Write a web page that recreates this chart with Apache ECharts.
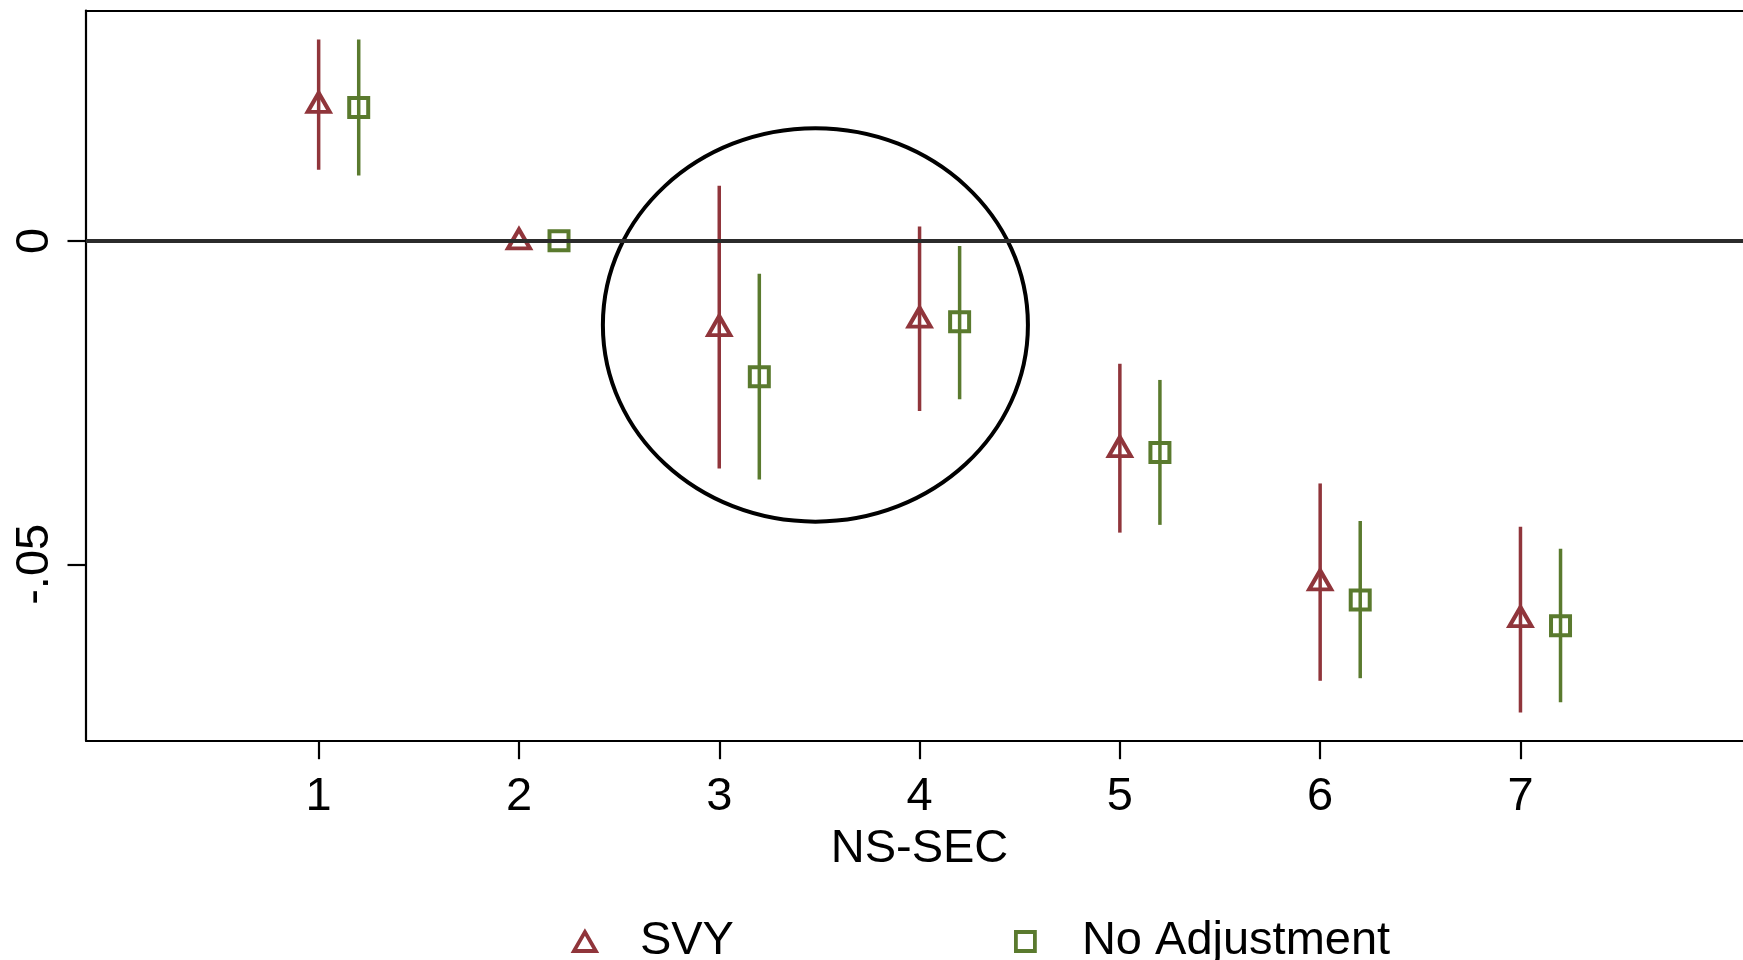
<!DOCTYPE html>
<html>
<head>
<meta charset="utf-8">
<script src="https://cdn.jsdelivr.net/npm/echarts@6/dist/echarts.min.js"></script>
<style>
  html, body { margin: 0; padding: 0; background: #fff; }
  #main { width: 1743px; height: 960px; }
</style>
</head>
<body>
<div id="main"></div>
<script>
// NS-SEC classes, SVY at x, No Adjustment shifted by .2
const svyX = [1, 2, 3, 4, 5, 6, 7];
const noAdjX = [1.2, 2.2, 3.2, 4.2, 5.2, 6.2, 7.2];

const svyEst = [0.0211, 0, -0.0134, -0.0121, -0.0321, -0.0527, -0.0584];
const svyLo = [0.0110, null, -0.0352, -0.0263, -0.0451, -0.0680, -0.0729];
const svyHi = [0.0311, null, 0.0085, 0.0022, -0.0190, -0.0375, -0.0442];

const noAdjEst = [0.0206, 0, -0.0210, -0.0125, -0.0327, -0.0555, -0.0595];
const noAdjLo = [0.0101, null, -0.0369, -0.0245, -0.0439, -0.0676, -0.0713];
const noAdjHi = [0.0311, null, -0.0051, -0.0008, -0.0215, -0.0433, -0.0476];

const xTickValues = [1, 2, 3, 4, 5, 6, 7];
const yTickValues = [-0.05, 0];
const yTickLabels = ['-.05', '0'];

// circled region (centre x, centre y, radius x, radius y) in data units
const ellipseData = [3.48, -0.0130, 1.061, 0.0304];

const RED = '#90353b';
const GREEN = '#5a7a2e';
const FONT = "'Liberation Sans', Arial, Helvetica, sans-serif";
const FS = 47;

function pts(xs, ys) {
  return xs.map((x, i) => [x, ys[i]]);
}
function bars(xs, lo, hi) {
  let out = [];
  xs.forEach((x, i) => {
    if (lo[i] !== null) out.push([x, lo[i], hi[i]]);
  });
  return out;
}
function barRenderer(color) {
  return function (params, api) {
    let a = api.coord([api.value(0), api.value(2)]);
    let b = api.coord([api.value(0), api.value(1)]);
    return {
      type: 'line',
      shape: {x1: a[0], y1: a[1], x2: b[0], y2: b[1]},
      style: {stroke: color, lineWidth: 3.5}
    };
  };
}

const axisLineStyle = {color: '#000', width: 2.2};
const tickStyle = {color: '#000', width: 2.2};

let chart = echarts.init(document.getElementById('main'));
let option = {
  animation: false,
  backgroundColor: '#fff',
  textStyle: {fontFamily: FONT},
  grid: {left: 86, top: 10.5, right: 0, bottom: 219.3},
  xAxis: [
    {
      type: 'value',
      position: 'bottom',
      min: -0.1615,
      max: 8.111,
      name: 'NS-SEC',
      nameLocation: 'middle',
      nameGap: 73,
      nameTextStyle: {fontSize: FS, color: '#000', fontFamily: FONT, padding: [0, 0, 0, 10]},
      splitLine: {show: false},
      axisLine: {show: true, onZero: false, lineStyle: axisLineStyle},
      axisTick: {show: true, length: 18.5, customValues: xTickValues, lineStyle: tickStyle},
      axisLabel: {customValues: xTickValues, fontSize: FS, color: '#000', margin: 33, fontFamily: FONT}
    },
    {
      // top frame line only
      type: 'value',
      position: 'top',
      min: -0.1615,
      max: 8.111,
      splitLine: {show: false},
      axisLine: {show: true, onZero: false, lineStyle: axisLineStyle},
      axisTick: {show: false},
      axisLabel: {show: false}
    }
  ],
  yAxis: {
    type: 'value',
    position: 'left',
    min: -0.07726,
    max: 0.0356,
    splitLine: {show: false},
    axisLine: {show: true, onZero: false, lineStyle: axisLineStyle},
    axisTick: {show: true, length: 18.5, customValues: yTickValues, lineStyle: tickStyle},
    axisLabel: {
      customValues: yTickValues, rotate: 90, fontSize: FS, color: '#000', margin: 27, fontFamily: FONT,
      formatter: function (v) {
        let i = yTickValues.findIndex(t => Math.abs(t - v) < 1e-9);
        return i >= 0 ? yTickLabels[i] : '';
      }
    }
  },
  legend: [
    {
      left: 567, top: 913, itemWidth: 22, itemHeight: 19,
      data: [{name: 'SVY', icon: 'triangle'}],
      itemStyle: {color: 'transparent', borderColor: RED, borderWidth: 3.8},
      textStyle: {fontSize: FS, color: '#000', fontFamily: FONT, padding: [0, 0, 0, 39]}
    },
    {
      left: 1009, top: 913, itemWidth: 19, itemHeight: 19,
      data: [{name: 'No Adjustment', icon: 'rect'}],
      itemStyle: {color: 'transparent', borderColor: GREEN, borderWidth: 3.8},
      textStyle: {fontSize: FS, color: '#000', fontFamily: FONT, padding: [0, 0, 0, 42]}
    }
  ],
  series: [
    {
      name: 'circle',
      type: 'custom',
      silent: true,
      z: 1,
      data: [ellipseData],
      renderItem: function (params, api) {
        let c = api.coord([api.value(0), api.value(1)]);
        let s = api.size([api.value(2), api.value(3)]);
        return {
          type: 'ellipse',
          shape: {cx: c[0], cy: c[1], rx: s[0], ry: s[1]},
          style: {fill: 'none', stroke: '#000', lineWidth: 4}
        };
      }
    },
    {
      name: 'SVY CI',
      type: 'custom',
      z: 3,
      data: bars(svyX, svyLo, svyHi),
      renderItem: barRenderer(RED)
    },
    {
      name: 'No Adjustment CI',
      type: 'custom',
      z: 3,
      data: bars(noAdjX, noAdjLo, noAdjHi),
      renderItem: barRenderer(GREEN)
    },
    {
      name: 'SVY',
      type: 'scatter',
      z: 4,
      symbol: 'triangle',
      symbolSize: [22, 19],
      symbolOffset: [0, -2],
      itemStyle: {color: 'transparent', borderColor: RED, borderWidth: 4, opacity: 1},
      data: pts(svyX, svyEst),
      markLine: {
        silent: true,
        symbol: 'none',
        label: {show: false},
        lineStyle: {color: '#2b2b2b', width: 3.8, type: 'solid'},
        data: [{yAxis: 0}]
      }
    },
    {
      name: 'No Adjustment',
      type: 'scatter',
      z: 4,
      symbol: 'rect',
      symbolSize: [19, 19],
      itemStyle: {color: 'transparent', borderColor: GREEN, borderWidth: 4, opacity: 1},
      data: pts(noAdjX, noAdjEst)
    }
  ]
};
chart.setOption(option);
</script>
</body>
</html>
